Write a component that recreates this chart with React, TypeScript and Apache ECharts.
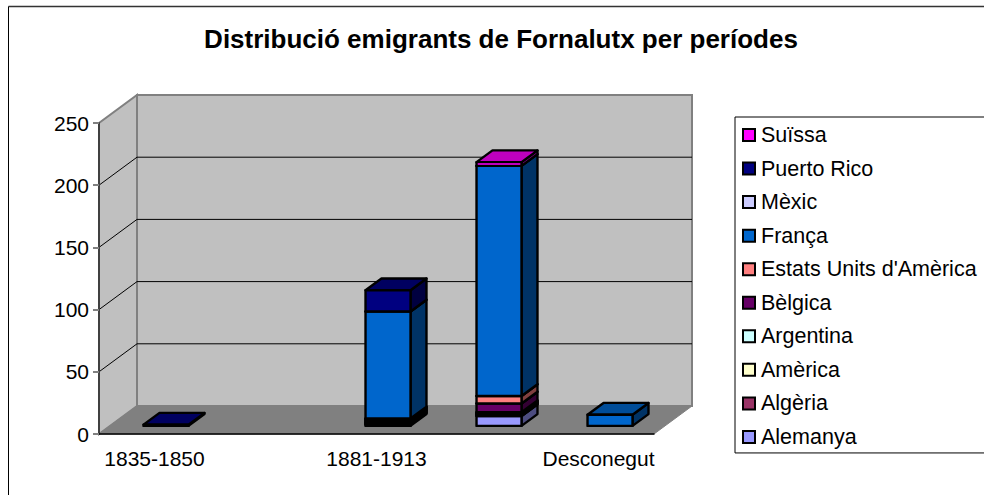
import React, { useEffect, useRef } from "react";
import * as echarts from "echarts";

const categories = ["1835-1850", "1851-1880", "1881-1913", "1914-1950", "Desconegut"];
const valueTicks = [0, 50, 100, 150, 200, 250];

const alemanya = [0, 0, 1, 8, 0];
const algeria = [0, 0, 1, 1, 0];
const america = [0, 0, 1, 1, 0];
const argentina = [0, 0, 1, 1, 0];
const belgica = [0, 0, 1, 7, 0];
const estatsUnits = [0, 0, 1, 6, 0];
const franca = [0, 0, 86, 185, 9];
const mexic = [0, 0, 0, 0, 0];
const puertoRico = [1, 0, 17, 0, 0];
const suissa = [0, 0, 0, 3, 0];

const seriesNames = ["Alemanya", "Algèria", "Amèrica", "Argentina", "Bèlgica", "Estats Units d'Amèrica", "França", "Mèxic", "Puerto Rico", "Suïssa"];
const seriesValues = [alemanya, algeria, america, argentina, belgica, estatsUnits, franca, mexic, puertoRico, suissa];
const seriesColors = ["#9999FF", "#993366", "#FFFFCC", "#CCFFFF", "#660066", "#FF8080", "#0066CC", "#CCCCFF", "#000080", "#FF00FF"];

const FONT = "Liberation Sans";
const DEPTH_X = 38;
const DEPTH_Y = -28;
const BAR_W = 45;
const NEAR = 0.29;
const FAR = 0.71;

function shade(hex: string, k: number) {
  const n = parseInt(hex.slice(1), 16);
  const c = [(n >> 16) & 255, (n >> 8) & 255, n & 255].map((v) => Math.round(v * k));
  return `rgb(${c[0]},${c[1]},${c[2]})`;
}

function wallsRender(_p: any, api: any) {
  const lo = api.coord([0, 0]);
  const hi = api.coord([categories.length - 1, 250]);
  const bw = api.size([1, 0])[0];
  const x0 = lo[0] - bw / 2;
  const x1 = hi[0] + bw / 2;
  const y0 = lo[1];
  const y1 = hi[1];
  const gray = { stroke: "#808080", lineWidth: 2 };
  const children: any[] = [
    { type: "polygon", shape: { points: [[x0, y0], [x0, y1], [x0 + DEPTH_X, y1 + DEPTH_Y], [x0 + DEPTH_X, y0 + DEPTH_Y]] }, style: { fill: "#C0C0C0", ...gray } },
    { type: "rect", shape: { x: x0 + DEPTH_X, y: y1 + DEPTH_Y, width: x1 - x0, height: y0 - y1 }, style: { fill: "#C0C0C0", ...gray } },
    { type: "polygon", shape: { points: [[x0, y0], [x1, y0], [x1 + DEPTH_X, y0 + DEPTH_Y], [x0 + DEPTH_X, y0 + DEPTH_Y]] }, style: { fill: "#808080", stroke: "#808080", lineWidth: 1 } },
  ];
  valueTicks.slice(1, -1).forEach((t) => {
    const y = api.coord([0, t])[1];
    children.push({ type: "polyline", shape: { points: [[x0, y], [x0 + DEPTH_X, y + DEPTH_Y], [x1 + DEPTH_X, y + DEPTH_Y]] }, style: { fill: "none", stroke: "#000", lineWidth: 1 } });
  });
  return { type: "group", children };
}

function barRender(color: string) {
  return (_p: any, api: any) => {
    const cat = api.value(0);
    const from = api.value(1);
    const to = api.value(2);
    if (to <= from) return null;
    const a = api.coord([cat, from]);
    const b = api.coord([cat, to]);
    const nx = a[0] + DEPTH_X * NEAR - BAR_W / 2 + 0.5;
    const ny = DEPTH_Y * NEAR;
    const dx = DEPTH_X * (FAR - NEAR);
    const dy = DEPTH_Y * (FAR - NEAR);
    const yb = a[1] + ny;
    const yt = b[1] + ny;
    const border = { stroke: "#000", lineWidth: 2.4, lineJoin: "round" };
    return {
      type: "group",
      children: [
        { type: "polygon", shape: { points: [[nx + BAR_W, yb], [nx + BAR_W + dx, yb + dy], [nx + BAR_W + dx, yt + dy], [nx + BAR_W, yt]] }, style: { fill: shade(color, 0.5), ...border } },
        { type: "polygon", shape: { points: [[nx, yt], [nx + BAR_W, yt], [nx + BAR_W + dx, yt + dy], [nx + dx, yt + dy]] }, style: { fill: shade(color, 0.75), ...border } },
        { type: "rect", shape: { x: nx, y: yt, width: BAR_W, height: yb - yt }, style: { fill: color, ...border } },
      ],
    };
  };
}

export default function App() {
  const ref = useRef<HTMLDivElement>(null);
  useEffect(() => {
    document.body.style.margin = "0";
    const chart = echarts.init(ref.current!, null, { renderer: "svg" });
    const running = categories.map(() => 0);
    const barSeries = seriesNames.map((name, s) => ({
      name,
      type: "custom",
      z: 3,
      silent: true,
      itemStyle: { color: seriesColors[s], borderColor: "#000", borderWidth: 2 },
      renderItem: barRender(seriesColors[s]),
      encode: { x: 0, y: 2 },
      data: seriesValues[s].map((v, i) => {
        const from = running[i];
        running[i] += v;
        return [i, from, running[i]];
      }),
    }));
    chart.setOption({
      animation: false,
      backgroundColor: "#fff",
      title: {
        text: "Distribució emigrants de Fornalutx per períodes",
        left: 496,
        textAlign: "center",
        top: 21,
        textStyle: { fontFamily: FONT, fontSize: 26, fontWeight: "bold", color: "#000" },
      },
      grid: { left: 99, right: 330, top: 123, bottom: 61 },
      xAxis: {
        type: "category",
        data: categories,
        z: 5,
        axisLine: { lineStyle: { color: "#000", width: 1.5 } },
        axisTick: { alignWithLabel: false, length: 6, lineStyle: { color: "#808080", width: 2 } },
        axisLabel: { interval: 1, fontFamily: FONT, fontSize: 21, color: "#000", margin: 14 },
      },
      yAxis: {
        type: "value",
        min: 0,
        max: 250,
        interval: 50,
        z: 5,
        splitLine: { show: false },
        axisLine: { show: true, lineStyle: { color: "#404040", width: 2 } },
        axisTick: { show: true, length: 6, lineStyle: { color: "#808080", width: 2 } },
        axisLabel: { fontFamily: FONT, fontSize: 21, color: "#000", margin: 10 },
      },
      legend: {
        left: 735,
        top: 117,
        orient: "vertical",
        data: [...seriesNames].reverse(),
        icon: "rect",
        itemWidth: 12,
        itemHeight: 12,
        itemGap: 11.55,
        padding: [7, 10, 5, 7],
        borderColor: "#000",
        borderWidth: 1,
        selectedMode: false,
        textStyle: { fontFamily: FONT, fontSize: 21.5, color: "#000", padding: [0, 0, 0, 1] },
      },
      graphic: [
        { type: "line", shape: { x1: 8.5, y1: 6.5, x2: 984, y2: 6.5 }, style: { stroke: "#333", lineWidth: 1.5 } },
        { type: "line", shape: { x1: 8.5, y1: 6.5, x2: 8.5, y2: 495 }, style: { stroke: "#000", lineWidth: 1 } },
      ],
      series: [
        { name: "walls", type: "custom", z: 1, silent: true, renderItem: wallsRender, encode: { x: 0, y: 1 }, data: [[0, 0]] },
        ...barSeries,
      ],
    });
    return () => chart.dispose();
  }, []);
  return <div ref={ref} style={{ width: 984, height: 495 }} />;
}
